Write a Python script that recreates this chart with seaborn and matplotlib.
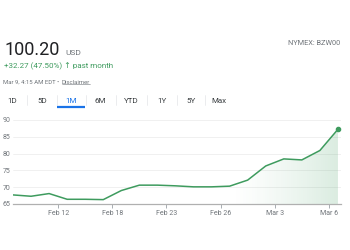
import numpy as np
import pandas as pd
import matplotlib
matplotlib.use("Agg")
import matplotlib.pyplot as plt
import seaborn as sns

# price series, one point per trading session
prices = [67.7, 67.3, 68.1, 66.4, 66.4, 66.3, 69.0, 70.6, 70.6, 70.4,
          70.1, 70.1, 70.3, 72.1, 76.3, 78.4, 78.1, 80.9, 87.2]
tick_labels = ["Feb 12", "Feb 18", "Feb 23", "Feb 26", "Mar 3", "Mar 6"]
y_ticks = [65, 70, 75, 80, 85, 90]
tabs = ["1D", "5D", "1M", "6M", "YTD", "1Y", "5Y", "Max"]
active_tab = "1M"

price = "100.20"
currency = "USD"
change = "+32.27 (47.50%)"
stamp = "Mar 9, 4:15 AM EDT \u2022 "
ticker = "NYMEX: BZW00"

green = "#3e9b5e"
grey = "#70757a"
blue = "#1a73e8"

sns.set_theme(style="white")
plt.rcParams["font.family"] = ["Roboto", "DejaVu Sans"]

df = pd.DataFrame({"session": range(len(prices)), "price": prices})

fig = plt.figure(figsize=(3.5, 2.5), dpi=100)
ax = fig.add_axes([13 / 350, 46 / 250, 328 / 350, 87.5 / 250])

sns.lineplot(data=df, x="session", y="price", ax=ax, color=green, lw=1.1)
ax.scatter(df["session"].iloc[-1], df["price"].iloc[-1], s=9, color=green, zorder=5)

# light gradient under the last part of the line
n = len(prices)
x0 = n - 7
poly = ax.fill_between(df["session"][x0:], df["price"][x0:], 65, color="none", lw=0)
grad = np.zeros((1, 100, 4))
grad[..., :3] = matplotlib.colors.to_rgb(green)
grad[..., 3] = np.linspace(0, 0.28, 100) ** 1.3
im = ax.imshow(grad, extent=[x0, n - 1, 65, 90], aspect="auto", origin="lower", zorder=1)
im.set_clip_path(poly.get_paths()[0], transform=ax.transData)

ax.set_xlim(0, n - 0.83)
ax.set_ylim(65, 91)
ax.set_xticks([2.5 + 3 * i for i in range(len(tick_labels))])
ax.set_xticklabels(tick_labels)
ax.set_yticks(y_ticks)
ax.set_xlabel("")
ax.set_ylabel("")
ax.tick_params(axis="x", colors="#9aa0a6", labelcolor=grey, labelsize=5, length=3, width=0.6,
               direction="out", pad=1.5, bottom=True)
ax.tick_params(axis="y", labelcolor=grey, labelsize=5, length=0, pad=2)
for v in y_ticks[1:]:
    ax.axhline(v, color="#eeeeee", lw=0.6, zorder=0)
for s in ["top", "right", "left"]:
    ax.spines[s].set_visible(False)
ax.spines["bottom"].set_color("#b0b0b0")
ax.spines["bottom"].set_linewidth(0.9)

# header
fig.text(5 / 350, 1 - 55 / 250, price, fontsize=13, color="#202124", va="baseline")
fig.text(65 / 350, 1 - 55 / 250, currency, fontsize=6, color=grey, va="baseline")
fig.text(4 / 350, 1 - 68 / 250, change + " \u2191 past month", fontsize=5.8, color=green,
         va="baseline")
st = fig.text(3 / 350, 1 - 84 / 250, stamp, fontsize=4.3, color=grey, va="baseline")
fig.canvas.draw()
sb = st.get_window_extent().transformed(fig.transFigure.inverted())
disc = fig.text(sb.x1 + 1 / 350, 1 - 84 / 250, "Disclaimer", fontsize=4.3, color=grey,
                va="baseline")
fig.canvas.draw()
bb = disc.get_window_extent().transformed(fig.transFigure.inverted())
fig.add_artist(plt.Line2D([bb.x0, bb.x1], [bb.y0 + 0.003, bb.y0 + 0.003], color=grey, lw=0.4))
fig.text(340 / 350, 1 - 45 / 250, ticker, fontsize=5.3, color=grey, ha="right", va="baseline")

tab_x = [12, 42, 71, 100, 131, 162, 191, 219]
for i, t in enumerate(tabs):
    fig.text(tab_x[i] / 350, 1 - 103 / 250, t, fontsize=5.8, ha="center", va="baseline",
             color=blue if t == active_tab else "#3c4043")
    if i < len(tabs) - 1:
        sep = (tab_x[i] + tab_x[i + 1]) / 2
        fig.add_artist(plt.Line2D([sep / 350] * 2, [1 - 105 / 250, 1 - 95 / 250],
                                  color="#e3e5e8", lw=0.5))
    if t == active_tab:
        fig.add_artist(plt.Line2D([57 / 350, 85 / 350], [1 - 107.5 / 250] * 2,
                                  color=blue, lw=1.6, solid_capstyle="butt"))

fig.savefig("out.png", dpi=100, facecolor="white")
